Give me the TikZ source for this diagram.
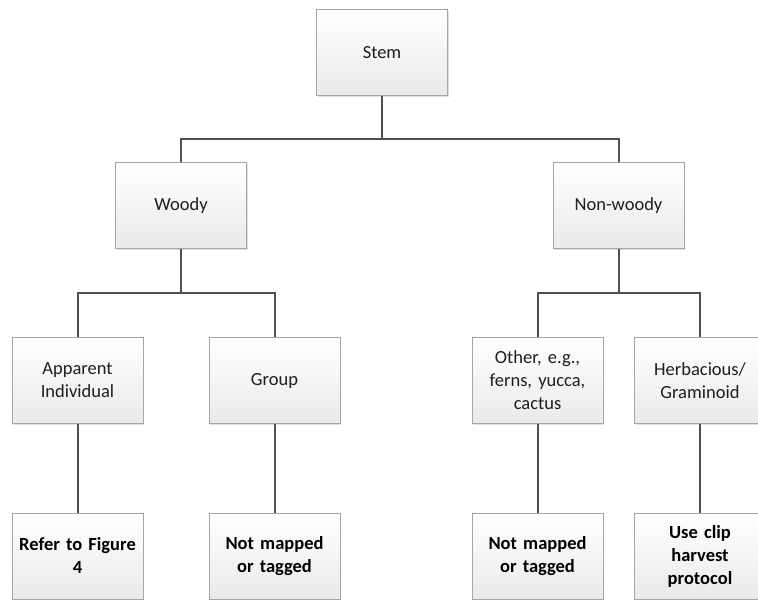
\documentclass[tikz,border=0pt]{standalone}
\usepackage{fontspec}
\setmainfont{Carlito}
\usetikzlibrary{shadows}
\definecolor{linec}{HTML}{505050}
\definecolor{boxline}{HTML}{A6A6A6}
\definecolor{boxbot}{HTML}{EAEAEA}
\definecolor{txt}{HTML}{1E1E1E}
\begin{document}
\begin{tikzpicture}[x=1pt,y=-1pt,
  box/.style={draw=boxline, line width=0.8pt, top color=white, bottom color=boxbot,
    minimum width=131pt, minimum height=86pt, inner sep=2pt, align=center,
    text width=124pt, text=txt,
    font=\fontsize{18.5}{23}\selectfont,
    drop shadow={shadow xshift=1.2pt, shadow yshift=-1.2pt, fill=black, opacity=0.12}},
  leaf/.style={box, font=\fontsize{18.5}{23}\selectfont\bfseries, text=black},
  conn/.style={draw=linec, line width=2pt}]
\useasboundingbox (0,0) rectangle (758,600);
\clip (0,0) rectangle (758,600);
% level 0
\node[box] (stem) at (382,52.5) {Stem};
% level 1
\node[box] (woody) at (181,205.5) {Woody};
\node[box] (nonwoody) at (618.5,205.5) {Non-woody};
% level 2
\node[box] (appind) at (77.5,380.5) {Apparent\\Individual};
\node[box] (group) at (274.5,380.5) {Group};
\node[box] (other) at (537.5,380.5) {Other, e.g.,\\ferns, yucca,\\cactus};
\node[box] (herb) at (700,380.5) {Herbacious/\\Graminoid};
% level 3
\node[leaf] (refer) at (77.5,556) {Refer to Figure\\4};
\node[leaf] (notmap1) at (274.5,556) {Not mapped\\or tagged};
\node[leaf] (notmap2) at (537.5,556) {Not mapped\\or tagged};
\node[leaf] (clip) at (700,556) {Use clip\\harvest\\protocol};
% bus coordinates
\coordinate (bus0) at (382,139);
\coordinate (busL) at (181,293);
\coordinate (busR) at (618.5,293);
% connectors
\draw[conn] (stem.south) -- (bus0);
\draw[conn] (woody.north) |- (bus0) -| (nonwoody.north);
\draw[conn] (woody.south) -- (busL);
\draw[conn] (appind.north) |- (busL) -| (group.north);
\draw[conn] (nonwoody.south) -- (busR);
\draw[conn] (other.north) |- (busR) -| (herb.north);
\draw[conn] (appind.south) -- (refer.north);
\draw[conn] (group.south) -- (notmap1.north);
\draw[conn] (other.south) -- (notmap2.north);
\draw[conn] (herb.south) -- (clip.north);
\end{tikzpicture}
\end{document}
